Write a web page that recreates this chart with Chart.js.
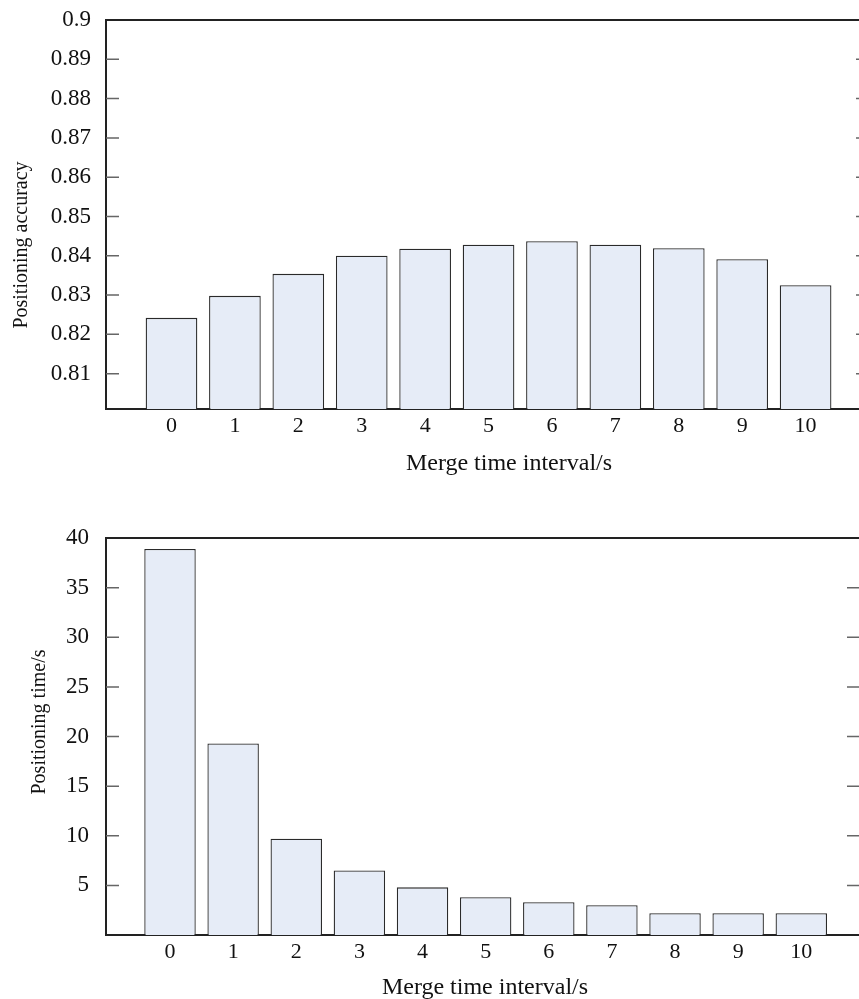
<!DOCTYPE html>
<html>
<head>
<meta charset="utf-8">
<script src="https://cdn.jsdelivr.net/npm/chart.js@4.4.1/dist/chart.umd.min.js"></script>
<style>
  body { margin: 0; background: #fff; overflow: hidden; }
  #wrap { position: relative; width: 859px; height: 999px; overflow: hidden; }
  canvas { position: absolute; left: 0; }
</style>
</head>
<body>
<div id="wrap">
  <canvas id="accChart" width="870" height="500" style="top:0"></canvas>
  <canvas id="timeChart" width="861" height="499" style="top:500px"></canvas>
</div>
<script>
const intervals = [0, 1, 2, 3, 4, 5, 6, 7, 8, 9, 10];
const accuracy = [0.8242, 0.8298, 0.8354, 0.8400, 0.8418, 0.8428, 0.8437, 0.8428, 0.8419, 0.8391, 0.8325];
const posTime = [38.9, 19.3, 9.7, 6.5, 4.8, 3.8, 3.3, 3.0, 2.2, 2.2, 2.2];
const accTicks = [0.81, 0.82, 0.83, 0.84, 0.85, 0.86, 0.87, 0.88, 0.89, 0.9];
const timeTicks = [5, 10, 15, 20, 25, 30, 35, 40];

const serif = 'Liberation Serif';

// top frame line, inward ticks on both sides, axis titles
const frame = {
  id: 'frame',
  afterDraw(chart, args, o) {
    const { ctx, chartArea: a, scales: { y } } = chart;
    ctx.save();
    ctx.strokeStyle = '#222';
    ctx.lineWidth = 2;
    ctx.beginPath();
    ctx.moveTo(a.left - 1, a.top);
    ctx.lineTo(a.right + 10, a.top);
    ctx.stroke();

    ctx.strokeStyle = '#666';
    ctx.lineWidth = 1.5;
    y.ticks.forEach(t => {
      const py = y.getPixelForValue(t.value);
      if (Math.abs(py - a.top) < 2) return;
      ctx.beginPath();
      ctx.moveTo(a.left, py); ctx.lineTo(a.left + 13, py);
      ctx.moveTo(a.right, py); ctx.lineTo(a.right - 13, py);
      ctx.stroke();
    });

    ctx.fillStyle = '#111';
    ctx.textBaseline = 'alphabetic';
    ctx.textAlign = 'center';
    ctx.font = '24px "' + serif + '"';
    ctx.fillText(o.xTitle, o.xTitleX, o.xTitleY);

    ctx.font = '20px "' + serif + '"';
    ctx.translate(o.yTitleX, o.yTitleY);
    ctx.rotate(-Math.PI / 2);
    ctx.fillText(o.yTitle, 0, 0);
    ctx.restore();
  }
};

function barChart(id, values, yTicks, yMin, yMax, xMin, xMax, lay, titles) {
  return new Chart(document.getElementById(id), {
    type: 'bar',
    data: {
      datasets: [{
        data: intervals.map((x, i) => ({ x: x, y: values[i] })),
        backgroundColor: '#e6ecf7',
        borderColor: '#2a2a2a',
        borderWidth: 1.3,
        barPercentage: 0.815,
        categoryPercentage: 1
      }]
    },
    plugins: [frame],
    options: {
      responsive: false,
      animation: false,
      devicePixelRatio: 1,
      layout: { padding: { top: lay.top, right: 1, left: 0, bottom: 0 } },
      scales: {
        x: {
          type: 'linear',
          offset: false,
          min: xMin,
          max: xMax,
          grid: { display: false, drawTicks: false, offset: false },
          border: { display: true, color: '#222', width: 2 },
          afterBuildTicks: s => { s.ticks = intervals.map(v => ({ value: v })); },
          afterFit: s => { s.height = lay.xHeight; },
          ticks: {
            padding: 4,
            color: '#111',
            font: { family: serif, size: 22 },
            callback: v => String(v),
            maxRotation: 0
          }
        },
        y: {
          min: yMin,
          max: yMax,
          grid: { display: false, drawTicks: false },
          border: { display: true, color: '#222', width: 2 },
          afterBuildTicks: s => { s.ticks = yTicks.map(v => ({ value: v })); },
          afterFit: s => { s.width = 106; s.paddingTop = 0; s.paddingBottom = 0; },
          ticks: {
            padding: lay.yPad,
            color: '#111',
            font: { family: serif, size: 23 },
            callback: v => String(v)
          }
        }
      },
      plugins: {
        legend: { display: false },
        tooltip: { enabled: false },
        frame: titles
      }
    }
  });
}

barChart('accChart', accuracy, accTicks, 0.801, 0.9, -1.033, 11.0,
  { top: 20, xHeight: 91, yPad: 15 },
  { xTitle: 'Merge time interval/s', xTitleX: 509, xTitleY: 470,
    yTitle: 'Positioning accuracy', yTitleX: 27, yTitleY: 245 });

barChart('timeChart', posTime, timeTicks, 0, 40, -1.014, 10.93,
  { top: 38, xHeight: 64, yPad: 17 },
  { xTitle: 'Merge time interval/s', xTitleX: 485, xTitleY: 494,
    yTitle: 'Positioning time/s', yTitleX: 45, yTitleY: 222 });
</script>
</body>
</html>
